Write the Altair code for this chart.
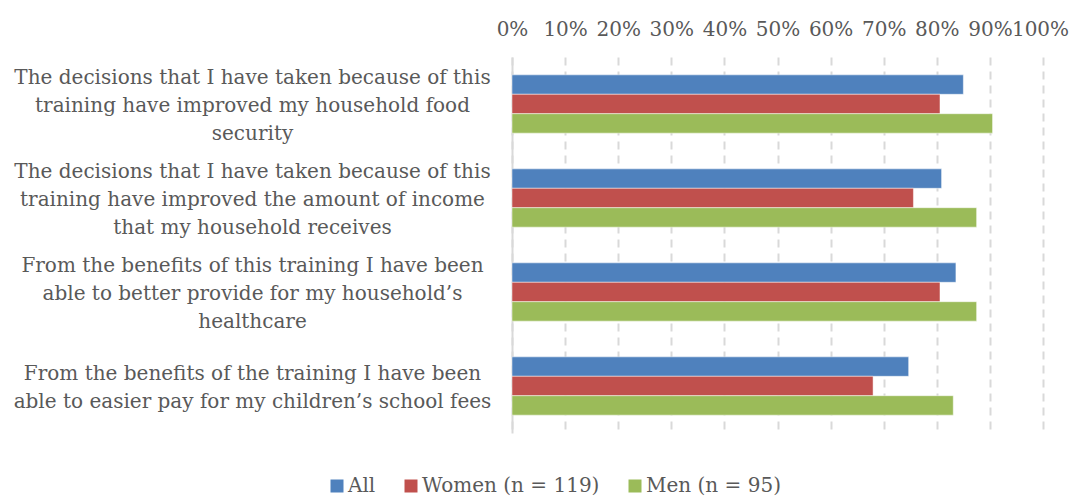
import altair as alt
import pandas as pd

questions = [
    "The decisions that I have taken because of this|training have improved my household food|security",
    "The decisions that I have taken because of this|training have improved the amount of income|that my household receives",
    "From the benefits of this training I have been|able to better provide for my household’s|healthcare",
    "From the benefits of the training I have been|able to easier pay for my children’s school fees",
]
series = ["All", "Women (n = 119)", "Men (n = 95)"]
all_vals = [0.850, 0.809, 0.836, 0.747]
women_vals = [0.806, 0.756, 0.806, 0.680]
men_vals = [0.905, 0.875, 0.875, 0.831]
colors = ["#4F81BD", "#C0504D", "#9BBB59"]
x_ticks = [0, 0.1, 0.2, 0.3, 0.4, 0.5, 0.6, 0.7, 0.8, 0.9, 1.0]

rows = []
for s, vals in zip(series, [all_vals, women_vals, men_vals]):
    for q, v in zip(questions, vals):
        rows.append({"question": q, "series": s, "value": v})
df = pd.DataFrame(rows)

font = "DejaVu Serif"
grey = "#595959"

chart = alt.Chart(df).mark_bar(stroke="white", strokeWidth=0.8, strokeOpacity=0.6).encode(
    x=alt.X(
        "value:Q",
        scale=alt.Scale(domain=[0, 1], nice=False, zero=True),
        axis=alt.Axis(
            orient="top", values=x_ticks, format=".0%", title=None, ticks=False,
            domain=False, grid=True, gridColor="#d9d9d9", gridWidth=2, gridDash=[8, 6],
            labelFont=font, labelFontSize=20, labelColor=grey, labelPadding=18,
            labelFlush=False, labelOverlap=False,
            labelOffset={"condition": {"test": "datum.value >= 1", "value": -3}, "value": 0},
        ),
    ),
    y=alt.Y(
        "question:N", sort=questions,
        scale=alt.Scale(paddingInner=0.38, paddingOuter=0.19),
        axis=alt.Axis(
            title=None, ticks=False, domain=True, domainColor="#d9d9d9", domainWidth=2,
            grid=False, labelExpr="split(datum.label, '|')", labelAlign="center",
            labelPadding=260, labelFont=font, labelFontSize=20, labelColor=grey,
            labelLineHeight=28, labelLimit=0,
            labelOffset={"condition": {"test": "indexof(datum.value, 'school fees') >= 0", "value": -12}, "value": -26},
        ),
    ),
    yOffset=alt.YOffset("series:N", sort=series, scale=alt.Scale(paddingInner=0, paddingOuter=0)),
    color=alt.Color(
        "series:N", sort=series,
        scale=alt.Scale(domain=series, range=colors),
        legend=alt.Legend(
            title=None, orient="none", direction="horizontal", legendX=-185, legendY=419,
            symbolType="square", symbolSize=169, symbolStrokeWidth=0,
            labelFont=font, labelFontSize=20, labelColor=grey, labelLimit=0,
            columnPadding=25, labelOffset=1, padding=0,
        ),
    ),
).properties(
    width=531, height=376,
    padding={"left": 504, "top": 49, "right": 27, "bottom": 63},
    autosize=alt.AutoSizeParams(type="none"),
).configure_view(stroke=None)

chart.save("out.html", embed_options={"renderer": "svg", "actions": False})
